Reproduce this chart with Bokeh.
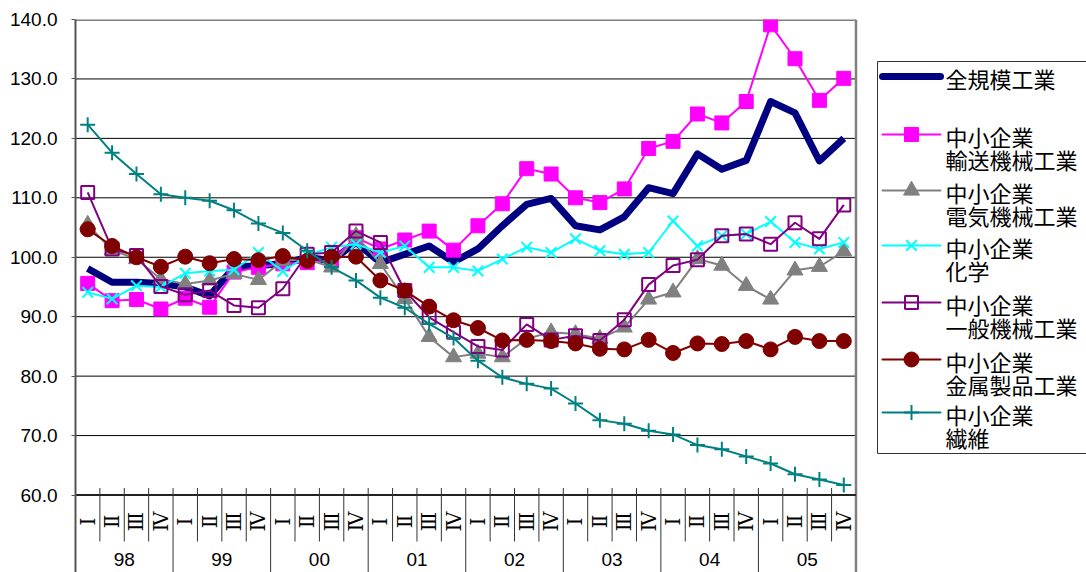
import math
from bokeh.plotting import figure
from bokeh.models import Range1d, FixedTicker, PrintfTickFormatter
from bokeh.core.properties import value
from bokeh.embed import file_html
from bokeh.resources import INLINE

# ---------------- data ----------------
years = ["98", "99", "00", "01", "02", "03", "04", "05"]
quarters = ["Ⅰ", "Ⅱ", "Ⅲ", "Ⅳ"]
y_ticks = [60, 70, 80, 90, 100, 110, 120, 130, 140]

all_scale = [98.1, 95.8, 95.8, 95.6, 95.0, 93.5, 98.3, 98.6, 98.9, 100.0, 99.4, 102.5,
             99.1, 100.5, 101.9, 99.2, 101.4, 105.3, 108.9, 109.9, 105.3, 104.6, 106.8, 111.7,
             110.7, 117.4, 114.8, 116.3, 126.2, 124.3, 116.2, 120.0]
transport = [95.6, 92.7, 92.9, 91.3, 93.1, 91.6, 97.5, 98.3, 98.9, 99.1, 99.5, 103.3,
             101.4, 102.9, 104.4, 101.2, 105.3, 109.0, 114.9, 114.0, 110.0, 109.2, 111.5, 118.3,
             119.5, 124.1, 122.6, 126.2, 139.1, 133.4, 126.4, 130.1]
electric = [105.5, 101.2, 99.7, 96.3, 95.5, 96.1, 97.2, 96.2, 99.4, 99.7, 98.3, 103.6,
            98.9, 93.0, 86.6, 83.2, 83.8, 83.2, 86.3, 87.4, 87.1, 86.3, 88.2, 92.9,
            94.1, 99.7, 98.6, 95.2, 92.9, 97.8, 98.4, 101.0]
chemical = [94.1, 93.0, 95.2, 95.0, 97.3, 97.7, 97.9, 100.8, 97.6, 100.3, 101.7, 102.2,
            100.8, 101.9, 98.3, 98.3, 97.7, 99.7, 101.7, 100.8, 103.1, 101.1, 100.5, 100.8,
            106.1, 101.9, 103.6, 103.9, 106.0, 102.5, 101.4, 102.5]
general = [110.9, 101.4, 100.3, 95.1, 93.7, 94.4, 91.9, 91.5, 94.7, 100.5, 100.8, 104.4,
           102.5, 94.4, 89.9, 87.4, 85.0, 84.4, 88.7, 86.1, 86.8, 86.0, 89.5, 95.4,
           98.6, 99.6, 103.6, 103.9, 102.2, 105.8, 103.1, 108.8]
metal = [104.7, 101.9, 100.0, 98.4, 100.1, 99.0, 99.7, 99.5, 100.2, 99.4, 100.1, 100.1,
         96.1, 94.4, 91.7, 89.4, 88.1, 86.0, 86.1, 85.9, 85.5, 84.6, 84.5, 86.1,
         83.9, 85.5, 85.4, 85.9, 84.5, 86.6, 85.9, 85.9]
textile = [122.3, 117.6, 114.0, 110.6, 110.0, 109.5, 107.9, 105.7, 104.1, 101.1, 98.3, 96.1,
           93.2, 91.5, 88.8, 86.4, 82.6, 79.8, 78.7, 77.9, 75.4, 72.6, 72.0, 70.8,
           70.2, 68.4, 67.7, 66.5, 65.3, 63.5, 62.6, 61.7]

series = [
    # label lines, values, color, marker, line width, marker size, fill
    (["全規模工業"], all_scale, "#000080", None, 7, 0, None),
    (["中小企業", "輸送機械工業"], transport, "#FF00FF", "square", 2, 14, "#FF00FF"),
    (["中小企業", "電気機械工業"], electric, "#808080", "triangle", 2, 16, "#808080"),
    (["中小企業", "化学"], chemical, "#00FFFF", "x", 2, 15, None),
    (["中小企業", "一般機械工業"], general, "#800080", "square", 2, 13, None),
    (["中小企業", "金属製品工業"], metal, "#800000", "circle", 2, 15, "#800000"),
    (["中小企業", "繊維"], textile, "#008080", "cross", 2, 15, None),
]

# ---------------- layout ----------------
W, H = 1086, 572
LEFT, TOP = 75, 19
PXX = 24.39     # px per quarter
PXY = 5.944     # px per index unit
x_end = (W - LEFT) / PXX
y_start = 140 - (H - TOP) / PXY


def wx(px):  # picture pixel -> data x
    return (px - LEFT) / PXX


def wy(py):  # picture pixel -> data y
    return 140 - (py - TOP) / PXY


p = figure(width=W, height=H, x_range=Range1d(0, x_end), y_range=Range1d(y_start, 140),
           output_backend="svg", toolbar_location=None, x_axis_location=None,
           min_border_left=LEFT, min_border_top=TOP, min_border_right=0, min_border_bottom=0,
           outline_line_color=None, background_fill_color="white", border_fill_color="white")
p.xgrid.visible = False
p.ygrid.visible = False

ax = p.yaxis[0]
ax.ticker = FixedTicker(ticks=y_ticks)
ax.formatter = PrintfTickFormatter(format="%.1f")
ax.major_label_text_font = "Liberation Sans"
ax.major_label_text_font_size = "19px"
ax.major_label_text_color = "black"
ax.major_label_standoff = 14
ax.axis_line_color = "#555555"
ax.axis_line_width = 2
ax.major_tick_out = 4
ax.major_tick_in = 0
ax.major_tick_line_color = "#555555"
ax.minor_tick_line_color = None

n = len(all_scale)
xs = [i + 0.5 for i in range(n)]

# gridlines
grid_y = [t for t in y_ticks if 60 < t < 140]
p.segment(x0=[0] * len(grid_y), x1=[n] * len(grid_y), y0=grid_y, y1=grid_y,
          line_color="black", line_width=1)
# frame borders
p.segment(x0=[0], x1=[n], y0=[140], y1=[140], line_color="#808080", line_width=3)
p.segment(x0=[n], x1=[n], y0=[y_start], y1=[140], line_color="#808080", line_width=2.5)
p.segment(x0=[0], x1=[n], y0=[60], y1=[60], line_color="#222222", line_width=2)

# category separators
tick_top = 60 + 7 / PXY
row_bottom = wy(541)
qb = [i for i in range(1, n) if i % 4 != 0]
p.segment(x0=qb, x1=qb, y0=[tick_top] * len(qb), y1=[row_bottom] * len(qb),
          line_color="#333333", line_width=1)
yb = [i for i in range(4, n, 4)]
p.segment(x0=yb, x1=yb, y0=[tick_top] * len(yb), y1=[y_start] * len(yb),
          line_color="#333333", line_width=1)

# quarter labels (rotated)
qlabels = [quarters[i % 4] for i in range(n)]
p.text(x=xs, y=[wy(521)] * n, text=qlabels, angle=math.pi / 2,
       text_font=value("DejaVu Serif"), text_font_size=value("20px"),
       text_align="center", text_baseline="middle", text_color="black")
# year labels
p.text(x=[4 * k + 2 for k in range(len(years))], y=[wy(559)] * len(years), text=years,
       text_font=value("Liberation Sans"), text_font_size=value("19px"),
       text_align="center", text_baseline="middle", text_color="black")

# series
for labels, vals, color, marker, lw, ms, fill in series:
    p.line(xs, vals, line_color=color, line_width=lw, line_join="round")
    if marker:
        p.scatter(xs, vals, marker=marker, size=ms, line_color=color,
                  fill_color=fill, line_width=2 if fill is None else 1)

# legend box
p.quad(left=[wx(877)], right=[x_end + 1], top=[wy(61)], bottom=[wy(453)],
       fill_color="white", line_color="#333333", line_width=1)
entry_rows = [76, 134, 190, 245, 302, 359, 412]
for (labels, vals, color, marker, lw, ms, fill), ry in zip(series, entry_rows):
    ly = wy(ry)
    p.line([wx(882), wx(940)], [ly, ly], line_color=color, line_width=lw, line_cap="round")
    if marker:
        p.scatter([wx(911)], [ly], marker=marker, size=ms, line_color=color,
                  fill_color=fill, line_width=2 if fill is None else 1)
    for k, t in enumerate(labels):
        p.text(x=[wx(945)], y=[wy(ry + 1 + 23 * k)], text=[t],
               text_font=value("Noto Sans CJK JP"), text_font_size=value("22px"),
               text_align="left", text_baseline="middle", text_color="black")

open("out.html", "w").write(file_html(p, INLINE))
